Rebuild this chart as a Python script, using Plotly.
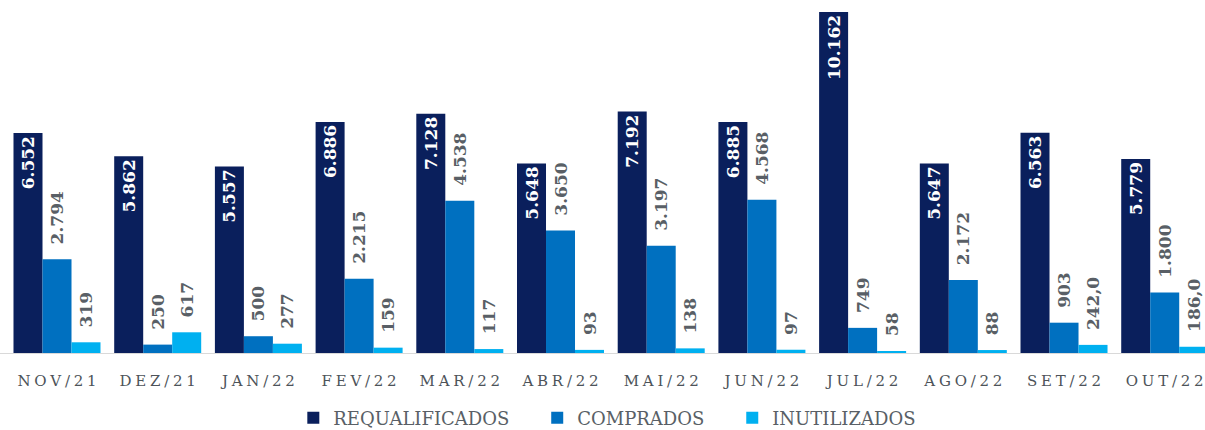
import plotly.graph_objects as go

meses = ["NOV/21", "DEZ/21", "JAN/22", "FEV/22", "MAR/22", "ABR/22",
         "MAI/22", "JUN/22", "JUL/22", "AGO/22", "SET/22", "OUT/22"]
requalificados = [6552, 5862, 5557, 6886, 7128, 5648, 7192, 6885, 10162, 5647, 6563, 5779]
comprados = [2794, 250, 500, 2215, 4538, 3650, 3197, 4568, 749, 2172, 903, 1800]
inutilizados = [319, 617, 277, 159, 117, 93, 138, 97, 58, 88, 242.0, 186.0]
# rótulos como aparecem no gráfico original (separador pt-BR)
txt_inut = ["319", "617", "277", "159", "117", "93", "138", "97", "58", "88", "242,0", "186,0"]


def br(v):
    return f"{v:,.0f}".replace(",", ".")


FONTE = "DejaVu Serif"
CINZA = "#595f66"
PAD = "\u00a0\u00a0"  # afasta o rótulo do topo da barra
SEP = "\u00a0" * 4    # espaço extra entre itens da legenda

fig = go.Figure()
fig.add_trace(go.Bar(
    x=meses, y=requalificados, name="REQUALIFICADOS" + SEP, marker_color="#0a1f5c",
    text=[br(v) for v in requalificados], textposition="inside", insidetextanchor="end",
    textangle=-90, textfont=dict(family=FONTE, size=17, color="white", weight="bold"),
))
fig.add_trace(go.Bar(
    x=meses, y=comprados, name="COMPRADOS" + SEP, marker_color="#0070c0",
    text=[PAD + br(v) for v in comprados], textposition="outside",
    textangle=-90, textfont=dict(family=FONTE, size=17, color=CINZA, weight="bold"),
))
fig.add_trace(go.Bar(
    x=meses, y=inutilizados, name="INUTILIZADOS", marker_color="#00b0f0",
    text=[PAD + t for t in txt_inut], textposition="outside",
    textangle=-90, textfont=dict(family=FONTE, size=17, color=CINZA, weight="bold"),
))

fig.update_traces(marker_line_width=0, cliponaxis=False, constraintext="none")

# espaçamento entre letras nos rótulos do eixo
espaco = "\u2005"
rotulos = [espaco.join(m) for m in meses]

fig.update_layout(
    width=1205, height=430,
    margin=dict(l=0, r=0, t=10, b=77, autoexpand=False),
    paper_bgcolor="white", plot_bgcolor="white",
    barmode="group", bargap=0.136, bargroupgap=0,
    font=dict(family=FONTE, color=CINZA),
    showlegend=True,
    legend=dict(orientation="h", x=0.504, xanchor="center", yref="container",
                y=0.028, yanchor="middle",
                font=dict(family=FONTE, size=18, color=CINZA),
                itemwidth=30, traceorder="normal"),
    xaxis=dict(tickvals=meses, ticktext=rotulos, range=[-0.566, 11.40],
               showline=True, linecolor="#d9d9d9",
               linewidth=1, ticks="", ticklabelstandoff=14,
               tickfont=dict(family=FONTE, size=15, color="#4d5359"),
               showgrid=False, zeroline=False),
    yaxis=dict(range=[0, 10220], visible=False, showgrid=False, zeroline=False),
)

fig.write_html("out.html", config={"displayModeBar": False},
               post_script="document.body.style.margin='0px';")
